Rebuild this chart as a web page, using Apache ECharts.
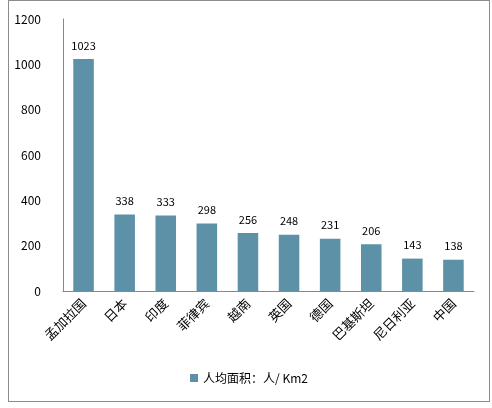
<!DOCTYPE html>
<html>
<head>
<meta charset="utf-8">
<script src="https://cdn.jsdelivr.net/npm/echarts@6/dist/echarts.min.js"></script>
<style>
  body { margin: 0; background: #fff; }
  #main { position: absolute; left: 8px; top: 0; width: 482px; height: 402px; border: 1px solid #8c8c8c; box-sizing: border-box; }
</style>
</head>
<body>
<div id="main"></div>
<script>
var categories = ['孟加拉国', '日本', '印度', '菲律宾', '越南', '英国', '德国', '巴基斯坦', '尼日利亚', '中国'];
var values = [1023, 338, 333, 298, 256, 248, 231, 206, 143, 138];
var seriesName = '人均面积：人/ Km2';

var myChart = echarts.init(document.getElementById('main'));
var font = '"Noto Sans CJK SC", sans-serif';
option = {
    animation: false,
    textStyle: { fontFamily: font },
    grid: { left: 54, right: 15, top: 18, bottom: 110 },
    legend: {
        bottom: 12,
        itemWidth: 8, itemHeight: 8,
        icon: 'rect',
        textStyle: { fontSize: 12, color: '#000', fontFamily: font },
        data: [seriesName]
    },
    xAxis: {
        type: 'category',
        data: categories,
        axisLine: { lineStyle: { color: '#888' } },
        axisTick: { show: false },
        axisLabel: { rotate: 45, color: '#000', fontSize: 13, interval: 0, margin: 10 }
    },
    yAxis: {
        type: 'value',
        min: 0, max: 1200, interval: 200,
        axisLine: { show: true, lineStyle: { color: '#888' } },
        axisTick: { show: false },
        splitLine: { show: false },
        axisLabel: { color: '#000', fontSize: 12, margin: 22, formatter: function (v) { return String(v); } }
    },
    series: [{
        name: seriesName,
        type: 'bar',
        data: values,
        barWidth: '50%',
        itemStyle: { color: '#5d91a8' },
        label: { show: true, position: 'top', color: '#000', fontSize: 11, distance: 8 }
    }]
};
myChart.setOption(option);
</script>
</body>
</html>
